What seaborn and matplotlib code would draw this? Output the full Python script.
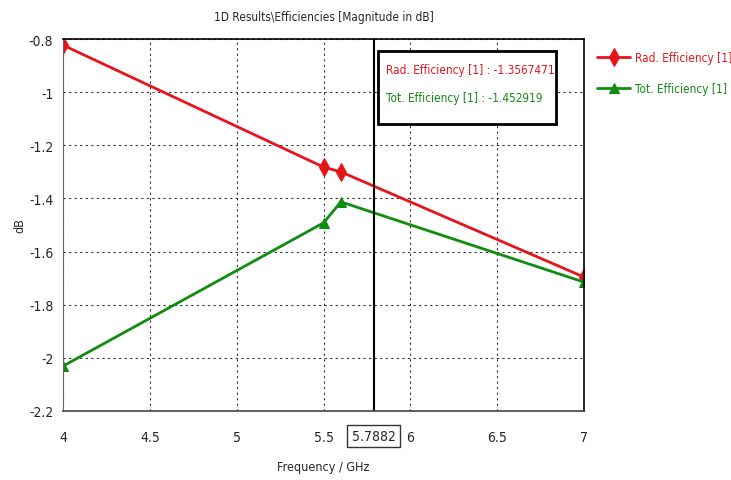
import pandas as pd
import matplotlib.pyplot as plt
import matplotlib.transforms as mtransforms
import seaborn as sns

freq = [4.0, 5.5, 5.6, 7.0]
rad_eff = [-0.823, -1.282, -1.300, -1.696]
tot_eff = [-2.031, -1.492, -1.413, -1.715]
marker_freq = 5.7882
rad_at_marker = -1.3567471
tot_at_marker = -1.452919

x_ticks = [4, 4.5, 5, 5.5, 6, 6.5, 7]
y_ticks = [-2.2, -2, -1.8, -1.6, -1.4, -1.2, -1, -0.8]

df = pd.DataFrame({'Frequency': freq, 'Rad': rad_eff, 'Tot': tot_eff})

sns.set_style('white')
plt.rcParams['font.family'] = ['DejaVu Sans']
plt.rcParams['font.stretch'] = 'condensed'
plt.rcParams['axes.unicode_minus'] = False

red = '#e8141c'
green = '#108c10'
fs = 10
fs_small = 8.5

fig = plt.figure(figsize=(7.31, 4.81), dpi=100)
ax = fig.add_axes([0.0862, 0.1435, 0.7127, 0.7733])

sns.lineplot(data=df, x='Frequency', y='Rad', ax=ax, color=red, lw=2,
             marker='d', markersize=9, markeredgecolor=red,
             label='Rad. Efficiency [1]')
sns.lineplot(data=df, x='Frequency', y='Tot', ax=ax, color=green, lw=2,
             marker='^', markersize=7.5, markeredgecolor=green,
             label='Tot. Efficiency [1]')

ax.set_xlim(4, 7)
ax.set_ylim(-2.2, -0.8)
ax.set_xticks(x_ticks)
ax.set_xticklabels(['4', '4.5', '5', '5.5', '6', '6.5', '7'])
ax.set_yticks(y_ticks)
ax.set_yticklabels(['-2.2', '-2', '-1.8', '-1.6', '-1.4', '-1.2', '-1', '-0.8'])
ax.tick_params(labelsize=fs, length=4, direction='inout', color='#555555')
ax.tick_params(axis='x', pad=12)
ax.tick_params(axis='y', pad=5)
ax.grid(True, color='#333333', linestyle=(0, (2, 3)), lw=0.8)

for side in ['top', 'right']:
    ax.spines[side].set_color('black')
    ax.spines[side].set_linewidth(1.2)
ax.spines['left'].set_color('#666666')
ax.spines['bottom'].set_color('#444444')
ax.spines['bottom'].set_linewidth(1.2)

# marker line and its value box under the axis
ax.axvline(marker_freq, color='black', lw=1.5)
offset = mtransforms.offset_copy(ax.get_xaxis_transform(), fig=fig, x=0, y=-25, units='dots')
ax.text(marker_freq, 0, '5.7882', transform=offset, ha='center', va='center',
        fontsize=fs, clip_on=False,
        bbox=dict(facecolor='white', edgecolor='#333333', boxstyle='square,pad=0.3'))

ax.text(0.62, 0.917, 'Rad. Efficiency [1] : %.7f' % rad_at_marker, color=red,
        transform=ax.transAxes, fontsize=fs_small, va='center', zorder=6)
ax.text(0.62, 0.844, 'Tot. Efficiency [1] : %.6f' % tot_at_marker, color=green,
        transform=ax.transAxes, fontsize=fs_small, va='center', zorder=6)
box = plt.Rectangle((0.605, 0.772), 0.341, 0.196, transform=ax.transAxes,
                    facecolor='white', edgecolor='black', lw=2, zorder=5)
ax.add_patch(box)

leg = ax.legend(loc='upper left', bbox_to_anchor=(1.005, 0.997), frameon=False,
                fontsize=fs_small, handlelength=2.8, handletextpad=0.4, labelspacing=1.55)
for txt, c in zip(leg.get_texts(), [red, green]):
    txt.set_color(c)

ax.set_title('1D Results\\Efficiencies [Magnitude in dB]', fontsize=fs_small, pad=14)
ax.set_xlabel('Frequency / GHz', fontsize=9, labelpad=11)
ax.set_ylabel('dB', fontsize=9, labelpad=2)

fig.savefig('out.png', dpi=100)
